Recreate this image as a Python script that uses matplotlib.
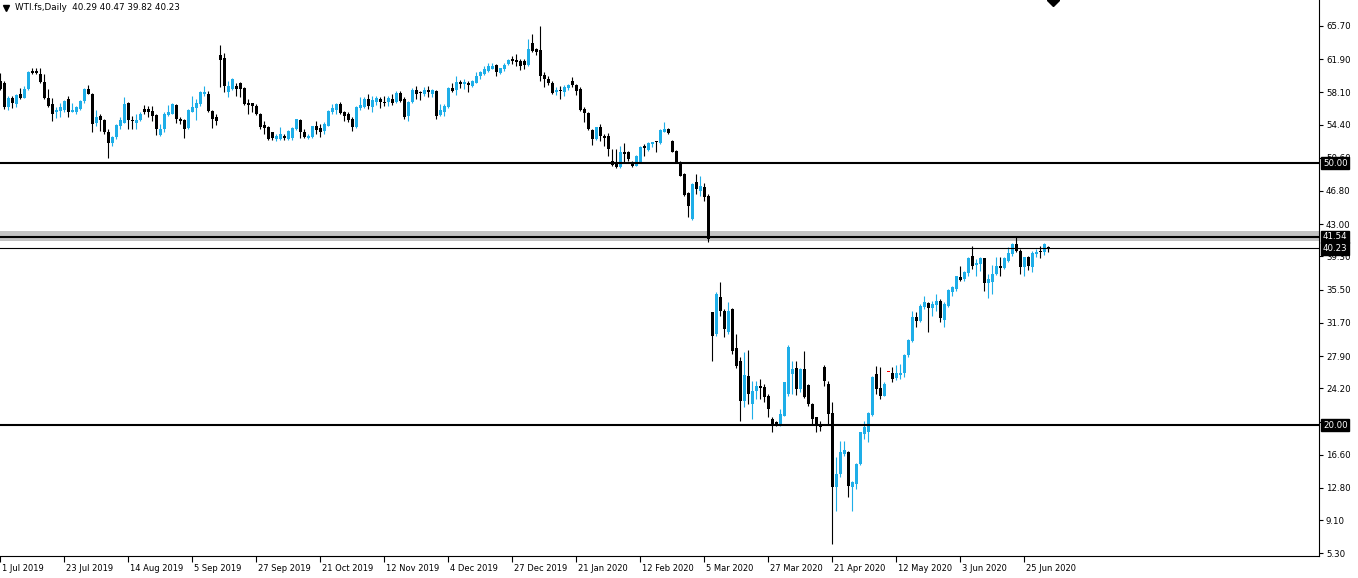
import matplotlib.pyplot as plt
import matplotlib.transforms as mtransforms
from matplotlib.lines import Line2D

# daily OHLC bars, 1 Jul 2019 .. 3 Jul 2020
opens = [
    59.41, 59.22, 56.36, 57.43, 56.74, 57.89, 57.50, 58.46, 60.55, 60.50,
    60.25, 59.33, 57.50, 56.74, 55.90, 55.98, 56.05, 57.31, 55.90, 55.90,
    56.17, 57.12, 58.46, 57.96, 54.53, 55.41, 54.91, 53.50, 52.24, 52.93,
    54.26, 54.64, 56.93, 54.91, 54.64, 54.91, 56.17, 56.17, 55.98, 55.52,
    53.23, 53.88, 55.52, 55.67, 56.66, 55.03, 54.91, 54.00, 55.90, 56.28,
    56.74, 57.89, 57.96, 55.98, 55.22, 62.39, 62.00, 58.19, 58.46, 58.84,
    59.22, 58.57, 56.82, 56.82, 56.55, 55.60, 54.34, 54.07, 53.50, 52.74,
    52.74, 53.05, 52.74, 52.82, 53.88, 54.95, 53.58, 52.82, 52.93, 54.27,
    53.96, 53.69, 54.27, 55.79, 56.10, 56.74, 55.87, 55.60, 55.10, 54.07,
    56.25, 56.36, 57.32, 56.36, 57.00, 57.39, 57.00, 56.94, 57.39, 56.94,
    58.00, 57.39, 55.33, 56.94, 58.38, 58.16, 57.89, 58.38, 57.89, 58.27,
    55.49, 55.87, 56.36, 58.54, 58.38, 59.30, 59.03, 59.22, 58.84, 59.22,
    59.91, 60.18, 60.56, 60.82, 61.20, 60.29, 60.75, 61.32, 61.89, 61.82,
    61.70, 61.70, 61.20, 63.80, 63.04, 62.92, 60.06, 59.68, 59.22, 58.08,
    58.38, 58.08, 58.54, 59.42, 58.92, 58.46, 56.17, 55.72, 53.77, 52.74,
    54.07, 53.12, 53.05, 50.26, 50.07, 49.50, 51.30, 51.30, 50.07, 49.69,
    50.07, 51.90, 51.52, 52.17, 52.44, 52.28, 53.58, 53.88, 52.55, 51.40,
    50.15, 48.74, 46.56, 43.60, 47.78, 46.83, 47.21, 46.25, 32.90, 30.42,
    34.62, 33.09, 30.61, 33.28, 28.82, 27.37, 22.80, 25.58, 22.41, 23.94,
    24.51, 24.32, 23.37, 20.70, 20.32, 20.13, 21.08, 23.56, 25.85, 26.50,
    24.13, 26.42, 24.59, 22.41, 20.89, 20.13, 26.61, 24.70, 21.38, 12.88,
    14.40, 16.70, 16.96, 12.88, 13.26, 15.55, 18.98, 19.17, 21.15, 25.85,
    24.21, 23.37, 26.04, 25.92, 25.40, 25.74, 25.96, 28.02, 29.59, 32.41,
    31.95, 33.48, 33.97, 33.36, 33.75, 34.24, 32.07, 33.67, 35.19, 35.57,
    36.91, 36.72, 37.41, 39.39, 38.32, 38.44, 39.08, 36.26, 36.34, 37.29,
    38.17, 37.94, 38.82, 39.58, 40.72, 39.96, 38.05, 39.20, 38.05, 39.58,
    39.96, 39.77, 40.29,
]
highs = [
    60.36, 59.41, 57.69, 57.69, 57.89, 58.57, 58.84, 60.55, 60.94, 60.94,
    60.94, 60.17, 58.46, 57.50, 56.36, 56.93, 57.20, 57.69, 56.93, 56.55,
    57.20, 58.57, 58.95, 58.05, 56.05, 55.60, 55.00, 53.88, 53.12, 54.45,
    55.29, 57.58, 57.00, 55.41, 55.67, 55.90, 56.66, 56.55, 56.55, 55.60,
    54.45, 55.79, 56.66, 56.93, 56.74, 55.22, 55.03, 56.17, 57.69, 57.31,
    58.27, 58.84, 58.20, 56.05, 55.67, 63.49, 62.65, 59.41, 59.72, 59.22,
    59.33, 58.65, 57.31, 56.90, 56.74, 55.75, 54.83, 54.27, 53.58, 53.31,
    54.07, 53.31, 53.81, 54.07, 55.10, 55.03, 53.88, 53.31, 54.27, 54.83,
    54.46, 54.65, 56.10, 56.74, 56.86, 56.94, 55.98, 55.79, 55.22, 56.48,
    57.51, 57.51, 57.89, 57.70, 57.70, 57.51, 57.62, 57.62, 57.89, 58.27,
    58.27, 57.51, 57.13, 58.54, 58.84, 58.27, 58.65, 58.84, 58.46, 58.35,
    56.74, 56.74, 58.65, 59.15, 59.91, 59.53, 59.61, 59.41, 59.53, 60.44,
    60.56, 61.13, 61.44, 61.44, 61.32, 60.94, 61.51, 61.97, 62.20, 62.47,
    61.97, 61.97, 64.18, 64.75, 63.23, 65.71, 60.37, 59.91, 59.41, 58.73,
    58.84, 58.92, 59.03, 59.80, 59.03, 58.65, 56.40, 55.79, 53.88, 54.15,
    54.46, 53.31, 53.43, 51.60, 51.60, 51.98, 52.28, 51.41, 50.26, 50.90,
    51.90, 52.17, 52.44, 52.44, 52.55, 53.88, 54.65, 53.96, 52.66, 51.52,
    50.26, 48.85, 46.64, 47.71, 48.74, 48.55, 47.67, 46.45, 32.95, 35.19,
    36.33, 33.28, 34.05, 33.40, 30.42, 27.75, 28.33, 28.59, 25.08, 25.08,
    25.27, 24.70, 23.56, 20.89, 20.51, 21.84, 24.95, 29.16, 27.37, 27.37,
    26.50, 28.52, 24.70, 22.50, 20.95, 20.51, 26.88, 25.08, 22.60, 16.31,
    18.22, 18.22, 17.07, 13.64, 15.60, 19.25, 20.51, 21.46, 25.58, 26.80,
    26.61, 24.89, 26.04, 26.61, 26.88, 26.99, 28.14, 29.86, 33.10, 32.98,
    33.86, 34.81, 34.13, 34.24, 35.00, 34.43, 34.05, 35.58, 35.96, 37.10,
    38.17, 37.67, 39.20, 40.53, 39.01, 39.20, 39.15, 37.29, 38.32, 39.20,
    39.20, 39.20, 40.34, 40.84, 41.68, 40.15, 39.25, 39.39, 39.96, 40.15,
    40.53, 40.84, 40.47,
]
lows = [
    58.34, 56.17, 56.05, 56.28, 56.36, 57.31, 57.43, 58.34, 60.25, 60.17,
    59.22, 57.31, 56.36, 54.83, 55.14, 55.22, 55.90, 55.29, 55.79, 55.60,
    56.05, 56.93, 57.89, 53.50, 54.26, 53.69, 53.31, 50.56, 51.97, 52.74,
    53.88, 54.53, 53.88, 53.88, 53.88, 54.76, 55.60, 55.29, 54.83, 53.23,
    53.12, 53.61, 55.41, 55.60, 54.53, 54.45, 52.85, 53.88, 55.79, 54.91,
    56.55, 57.69, 55.90, 54.00, 54.38, 58.72, 58.08, 57.58, 58.34, 57.69,
    57.58, 56.66, 55.60, 55.79, 55.52, 53.88, 53.31, 52.66, 52.66, 52.55,
    52.66, 52.66, 52.66, 52.66, 53.81, 52.82, 52.82, 52.74, 52.82, 53.31,
    52.93, 53.31, 54.19, 55.60, 55.60, 55.60, 54.84, 54.65, 53.69, 53.96,
    56.10, 56.25, 56.17, 55.79, 56.70, 56.25, 56.55, 56.55, 56.63, 56.86,
    56.94, 55.10, 54.84, 56.86, 57.32, 57.24, 57.70, 57.51, 57.51, 55.10,
    55.33, 55.33, 56.25, 58.08, 57.77, 58.54, 58.46, 58.16, 58.65, 59.15,
    59.68, 60.06, 60.37, 60.75, 59.99, 60.18, 60.56, 61.20, 61.32, 61.13,
    60.67, 60.75, 61.13, 62.66, 62.35, 59.41, 58.65, 58.92, 57.89, 57.77,
    57.39, 57.70, 58.35, 58.65, 57.77, 56.00, 54.65, 53.81, 52.05, 52.66,
    52.55, 51.90, 50.83, 49.69, 49.38, 49.38, 50.07, 50.26, 49.50, 49.61,
    49.99, 50.76, 51.41, 51.79, 51.22, 52.17, 53.50, 53.31, 51.22, 50.00,
    48.47, 46.26, 43.78, 43.51, 46.45, 46.26, 45.68, 41.00, 27.37, 30.23,
    32.52, 30.04, 30.42, 28.13, 26.50, 20.51, 22.03, 22.41, 20.70, 22.98,
    22.98, 22.60, 20.89, 19.25, 19.94, 19.94, 21.00, 23.37, 23.56, 23.45,
    23.75, 23.10, 22.22, 20.13, 19.17, 19.36, 24.51, 20.13, 6.40, 10.21,
    14.02, 16.50, 11.74, 10.10, 12.69, 15.44, 18.41, 18.03, 21.08, 23.56,
    22.98, 23.30, 26.04, 24.89, 25.16, 25.28, 25.47, 27.76, 29.47, 31.19,
    31.84, 33.29, 30.69, 32.52, 33.10, 31.76, 31.19, 33.48, 34.81, 35.38,
    36.53, 36.53, 37.10, 37.86, 37.10, 37.67, 35.38, 34.51, 35.00, 37.18,
    37.10, 37.86, 38.70, 39.39, 39.77, 37.29, 37.10, 37.79, 37.48, 39.20,
    39.08, 39.47, 39.82,
]
closes = [
    58.46, 56.36, 57.50, 56.82, 57.81, 57.50, 58.46, 60.48, 60.36, 60.33,
    59.33, 57.43, 56.55, 55.67, 56.05, 56.44, 57.12, 55.90, 56.05, 56.44,
    57.12, 58.46, 57.96, 54.45, 55.29, 54.91, 53.50, 52.24, 52.93, 54.38,
    54.91, 56.74, 54.91, 54.76, 54.91, 55.60, 55.90, 55.90, 55.41, 53.88,
    53.88, 55.67, 55.90, 56.74, 55.03, 54.76, 53.88, 56.05, 56.36, 56.82,
    58.19, 58.19, 55.98, 55.03, 54.83, 61.77, 58.84, 58.84, 59.60, 58.46,
    58.46, 56.74, 56.66, 56.55, 55.60, 54.07, 53.96, 52.74, 52.82, 53.12,
    53.31, 52.82, 53.69, 53.96, 55.03, 53.50, 52.93, 53.12, 54.19, 53.81,
    53.50, 54.46, 55.98, 56.25, 56.74, 55.72, 55.41, 54.95, 54.07, 56.36,
    56.63, 57.39, 56.48, 57.24, 57.50, 56.94, 56.86, 57.50, 56.86, 58.00,
    57.13, 55.22, 57.00, 58.38, 57.89, 58.00, 58.38, 58.16, 58.38, 55.41,
    56.10, 56.48, 58.54, 58.27, 59.30, 59.03, 59.30, 58.92, 59.41, 59.91,
    60.37, 60.75, 61.13, 61.13, 60.37, 60.83, 61.20, 61.82, 61.70, 61.59,
    61.13, 61.20, 63.10, 62.85, 62.73, 59.99, 59.60, 59.15, 58.00, 58.35,
    58.27, 58.73, 58.92, 58.92, 58.27, 56.10, 55.72, 53.90, 52.74, 54.07,
    53.12, 52.90, 51.60, 49.77, 49.50, 51.30, 51.03, 50.45, 49.69, 50.83,
    51.79, 51.67, 52.28, 52.36, 52.36, 53.80, 53.88, 53.43, 51.30, 50.07,
    48.55, 46.37, 45.10, 47.60, 47.02, 47.40, 46.06, 41.30, 30.23, 35.00,
    33.09, 31.00, 33.09, 28.52, 26.80, 22.80, 25.73, 23.56, 23.94, 24.51,
    24.25, 23.18, 21.84, 20.13, 20.01, 21.27, 24.89, 28.90, 26.42, 24.13,
    26.42, 23.18, 22.41, 20.70, 19.94, 19.75, 25.08, 21.27, 12.88, 14.40,
    16.96, 17.15, 13.00, 13.45, 15.55, 19.17, 19.75, 21.38, 25.47, 24.13,
    23.37, 24.70, 26.04, 25.27, 25.96, 25.96, 28.02, 29.74, 32.41, 31.88,
    33.67, 34.13, 33.36, 33.86, 34.24, 32.22, 33.86, 35.50, 35.77, 37.02,
    36.64, 37.48, 39.08, 38.17, 38.55, 39.08, 36.26, 36.72, 37.29, 38.24,
    37.94, 39.08, 39.69, 40.72, 39.96, 38.05, 39.20, 38.17, 39.69, 39.85,
    39.77, 40.72, 40.23,
]

date_labels = ["1 Jul 2019", "23 Jul 2019", "14 Aug 2019", "5 Sep 2019",
               "27 Sep 2019", "21 Oct 2019", "12 Nov 2019", "4 Dec 2019",
               "27 Dec 2019", "21 Jan 2020", "12 Feb 2020", "5 Mar 2020",
               "27 Mar 2020", "21 Apr 2020", "12 May 2020", "3 Jun 2020",
               "25 Jun 2020"]
price_ticks = [5.30, 9.10, 12.80, 16.60, 20.40, 24.20, 27.90, 31.70, 35.50,
               39.30, 43.00, 46.80, 50.60, 54.40, 58.10, 61.90, 65.70]
levels = [50.00, 20.00]
zone_low, zone_high, zone_level = 41.07, 42.20, 41.54
bid = closes[-1]

UP = "#1eaee8"
DOWN = "black"

plt.rcParams["font.family"] = ["DejaVu Sans"]
W, H = 1358, 578
fig = plt.figure(figsize=(W / 100, H / 100), dpi=100)
ax = fig.add_axes([0, 22 / H, 1319 / W, 556 / H])

xs = list(range(len(opens)))
colors = []
for o, c in zip(opens, closes):
    if o == c:
        colors.append("red")
    elif c > o:
        colors.append(UP)
    else:
        colors.append(DOWN)
bottoms = [min(o, c) for o, c in zip(opens, closes)]
heights = [max(abs(c - o), 0.12) for o, c in zip(opens, closes)]

ax.axhspan(zone_low, zone_high, color="#c3c3c3", lw=0, zorder=1)
ax.vlines(xs, lows, highs, colors=colors, lw=0.8, zorder=2)
ax.bar(xs, heights, bottom=bottoms, width=0.75, color=colors, lw=0, zorder=3)

for lv in levels + [zone_level]:
    ax.axhline(lv, color="black", lw=1.5, zorder=4)
ax.axhline(bid, color="black", lw=0.8, zorder=4)

ax.set_xlim(-0.1, -0.1 + 1319 / 4)
ax.set_ylim(5.0, 68.67)

for side in ["left", "top"]:
    ax.spines[side].set_visible(False)
for side in ["right", "bottom"]:
    ax.spines[side].set_linewidth(0.8)

# the 20.40 label sits fully under the 20.00 box on the original
ax.yaxis.tick_right()
ax.set_yticks(price_ticks, ["" if v == 20.40 else f"{v:.2f}" for v in price_ticks])
ax.tick_params(axis="y", length=3, width=0.8, pad=2, labelsize=6.2)

ax.set_xticks(range(0, 16 * len(date_labels), 16), date_labels)
ax.tick_params(axis="x", length=4, width=0.8, pad=2, labelsize=6)
shift = mtransforms.ScaledTranslation(2 / 100, 0, fig.dpi_scale_trans)
for lab in ax.get_xticklabels():
    lab.set_horizontalalignment("left")
    lab.set_transform(lab.get_transform() + shift)

# price boxes on the right scale
box_tr = mtransforms.blended_transform_factory(ax.transAxes, ax.transData)
box_tr = box_tr + mtransforms.ScaledTranslation(4 / 100, 0, fig.dpi_scale_trans)
for lv in [levels[0], zone_level, bid, levels[1]]:
    ax.text(1.0, lv, f"{lv:.2f}", transform=box_tr, color="white",
            fontsize=6.2, ha="left", va="center", zorder=10, clip_on=False,
            bbox=dict(boxstyle="square,pad=0.2", fc="black", ec="black"))

title = f"WTI.fs,Daily  {opens[-1]:.2f} {highs[-1]:.2f} {lows[-1]:.2f} {closes[-1]:.2f}"
fig.text(15 / W, 1 - 8 / H, title, fontsize=6.3, va="center", ha="left")
fig.add_artist(Line2D([6 / W], [1 - 8 / H], marker="v", ms=4, color="black",
                      transform=fig.transFigure))
fig.add_artist(Line2D([1053 / W], [1.0], marker="D", ms=6, color="black",
                      transform=fig.transFigure))

fig.savefig("out.png", dpi=100)
